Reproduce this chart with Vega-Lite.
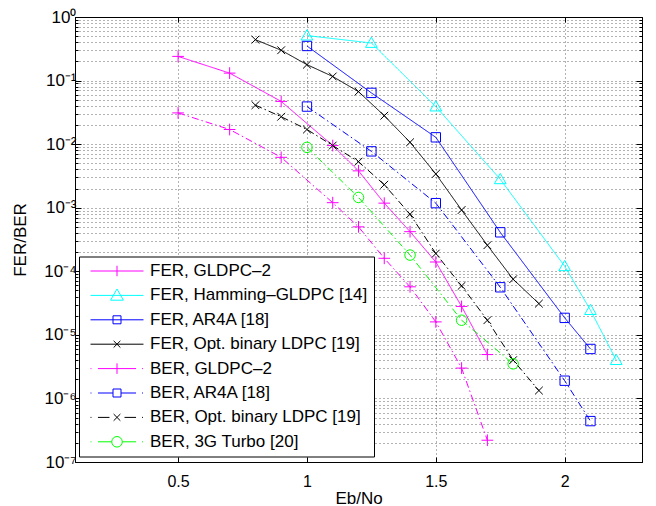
{
  "$schema": "https://vega.github.io/schema/vega-lite/v6.json",
  "width": 567,
  "height": 445,
  "autosize": {"type": "none"},
  "padding": {"left": 75, "top": 17, "right": 14, "bottom": 44},
  "background": "white",
  "config": {
    "font": "Liberation Sans",
    "view": {"stroke": "black", "strokeWidth": 1},
    "axis": {
      "domainColor": "black", "tickColor": "black", "labelColor": "black", "titleColor": "black",
      "labelFontSize": 16, "titleFontSize": 17, "titleFontWeight": "normal",
      "gridColor": "black", "gridDash": [1, 3], "gridOpacity": 0.6, "gridWidth": 1,
      "domainWidth": 1, "tickWidth": 1, "labelOverlap": false, "labelFlush": false, "labelBound": false
    }
  },
  "data": {"values": [
    {"series": "FER, GLDPC–2", "x": 0.5, "y": 0.24},
    {"series": "FER, GLDPC–2", "x": 0.7, "y": 0.131},
    {"series": "FER, GLDPC–2", "x": 0.9, "y": 0.047},
    {"series": "FER, GLDPC–2", "x": 1.1, "y": 0.0095},
    {"series": "FER, GLDPC–2", "x": 1.2, "y": 0.0038},
    {"series": "FER, GLDPC–2", "x": 1.3, "y": 0.00118},
    {"series": "FER, GLDPC–2", "x": 1.4, "y": 0.00042},
    {"series": "FER, GLDPC–2", "x": 1.5, "y": 0.00014},
    {"series": "FER, GLDPC–2", "x": 1.6, "y": 0.000028},
    {"series": "FER, GLDPC–2", "x": 1.7, "y": 0.0000049},
    {"series": "FER, Hamming–GLDPC [14]", "x": 1.0, "y": 0.51},
    {"series": "FER, Hamming–GLDPC [14]", "x": 1.25, "y": 0.39},
    {"series": "FER, Hamming–GLDPC [14]", "x": 1.5, "y": 0.039},
    {"series": "FER, Hamming–GLDPC [14]", "x": 1.75, "y": 0.0028},
    {"series": "FER, Hamming–GLDPC [14]", "x": 2.0, "y": 0.00012},
    {"series": "FER, Hamming–GLDPC [14]", "x": 2.1, "y": 0.0000245},
    {"series": "FER, Hamming–GLDPC [14]", "x": 2.2, "y": 0.000004},
    {"series": "FER, AR4A [18]", "x": 1.0, "y": 0.35},
    {"series": "FER, AR4A [18]", "x": 1.25, "y": 0.064},
    {"series": "FER, AR4A [18]", "x": 1.5, "y": 0.0128},
    {"series": "FER, AR4A [18]", "x": 1.75, "y": 0.00041},
    {"series": "FER, AR4A [18]", "x": 2.0, "y": 0.0000185},
    {"series": "FER, AR4A [18]", "x": 2.1, "y": 0.000006},
    {"series": "FER, Opt. binary LDPC [19]", "x": 0.8, "y": 0.44},
    {"series": "FER, Opt. binary LDPC [19]", "x": 0.9, "y": 0.30},
    {"series": "FER, Opt. binary LDPC [19]", "x": 1.0, "y": 0.178},
    {"series": "FER, Opt. binary LDPC [19]", "x": 1.1, "y": 0.116},
    {"series": "FER, Opt. binary LDPC [19]", "x": 1.2, "y": 0.067},
    {"series": "FER, Opt. binary LDPC [19]", "x": 1.3, "y": 0.028},
    {"series": "FER, Opt. binary LDPC [19]", "x": 1.4, "y": 0.0107},
    {"series": "FER, Opt. binary LDPC [19]", "x": 1.5, "y": 0.0034},
    {"series": "FER, Opt. binary LDPC [19]", "x": 1.6, "y": 0.00092},
    {"series": "FER, Opt. binary LDPC [19]", "x": 1.7, "y": 0.000257},
    {"series": "FER, Opt. binary LDPC [19]", "x": 1.8, "y": 0.000075},
    {"series": "FER, Opt. binary LDPC [19]", "x": 1.9, "y": 0.000031},
    {"series": "BER, GLDPC–2", "x": 0.5, "y": 0.031},
    {"series": "BER, GLDPC–2", "x": 0.7, "y": 0.017},
    {"series": "BER, GLDPC–2", "x": 0.9, "y": 0.0062},
    {"series": "BER, GLDPC–2", "x": 1.1, "y": 0.0012},
    {"series": "BER, GLDPC–2", "x": 1.2, "y": 0.0005},
    {"series": "BER, GLDPC–2", "x": 1.3, "y": 0.00016},
    {"series": "BER, GLDPC–2", "x": 1.4, "y": 0.000057},
    {"series": "BER, GLDPC–2", "x": 1.5, "y": 0.000016},
    {"series": "BER, GLDPC–2", "x": 1.6, "y": 0.000003},
    {"series": "BER, GLDPC–2", "x": 1.7, "y": 0.00000022},
    {"series": "BER, AR4A [18]", "x": 1.0, "y": 0.039},
    {"series": "BER, AR4A [18]", "x": 1.25, "y": 0.0077},
    {"series": "BER, AR4A [18]", "x": 1.5, "y": 0.00118},
    {"series": "BER, AR4A [18]", "x": 1.75, "y": 0.000056},
    {"series": "BER, AR4A [18]", "x": 2.0, "y": 0.0000019},
    {"series": "BER, AR4A [18]", "x": 2.1, "y": 0.00000044},
    {"series": "BER, Opt. binary LDPC [19]", "x": 0.8, "y": 0.041},
    {"series": "BER, Opt. binary LDPC [19]", "x": 0.9, "y": 0.027},
    {"series": "BER, Opt. binary LDPC [19]", "x": 1.0, "y": 0.017},
    {"series": "BER, Opt. binary LDPC [19]", "x": 1.1, "y": 0.0095},
    {"series": "BER, Opt. binary LDPC [19]", "x": 1.2, "y": 0.0053},
    {"series": "BER, Opt. binary LDPC [19]", "x": 1.3, "y": 0.0023},
    {"series": "BER, Opt. binary LDPC [19]", "x": 1.4, "y": 0.00079},
    {"series": "BER, Opt. binary LDPC [19]", "x": 1.5, "y": 0.00019},
    {"series": "BER, Opt. binary LDPC [19]", "x": 1.6, "y": 0.000059},
    {"series": "BER, Opt. binary LDPC [19]", "x": 1.7, "y": 0.000017},
    {"series": "BER, Opt. binary LDPC [19]", "x": 1.8, "y": 0.000004},
    {"series": "BER, Opt. binary LDPC [19]", "x": 1.9, "y": 0.00000133},
    {"series": "BER, 3G Turbo [20]", "x": 1.0, "y": 0.0089},
    {"series": "BER, 3G Turbo [20]", "x": 1.2, "y": 0.00145},
    {"series": "BER, 3G Turbo [20]", "x": 1.4, "y": 0.00018},
    {"series": "BER, 3G Turbo [20]", "x": 1.6, "y": 0.000017},
    {"series": "BER, 3G Turbo [20]", "x": 1.8, "y": 0.0000035}
  ]},
  "layer": [
    {
      "mark": {"type": "line", "strokeWidth": 1},
      "encoding": {
        "x": {"field": "x", "type": "quantitative",
          "scale": {"domain": [0.1, 2.3], "nice": false, "zero": false},
          "axis": {"orient": "bottom", "values": [0.5, 1, 1.5, 2], "format": "~g", "grid": true,
            "tickSize": -5, "labelPadding": 16, "title": "Eb/No", "titleY": 36, "titleBaseline": "middle"}},
        "y": {"field": "y", "type": "quantitative",
          "scale": {"type": "log", "domain": [1e-7, 1], "nice": false},
          "axis": {"orient": "left", "grid": true,
            "values": [1e-7,2e-7,3e-7,4e-7,5e-7,6e-7,7e-7,8e-7,9e-7,1e-6,2e-6,3e-6,4e-6,5e-6,6e-6,7e-6,8e-6,9e-6,1e-5,2e-5,3e-5,4e-5,5e-5,6e-5,7e-5,8e-5,9e-5,1e-4,2e-4,3e-4,4e-4,5e-4,6e-4,7e-4,8e-4,9e-4,1e-3,2e-3,3e-3,4e-3,5e-3,6e-3,7e-3,8e-3,9e-3,1e-2,2e-2,3e-2,4e-2,5e-2,6e-2,7e-2,8e-2,9e-2,1e-1,2e-1,3e-1,4e-1,5e-1,6e-1,7e-1,8e-1,9e-1,1],
            "labelExpr": "abs(log(datum.value)/LN10 - round(log(datum.value)/LN10)) < 0.001 ? ['10⁰','10⁻¹','10⁻²','10⁻³','10⁻⁴','10⁻⁵','10⁻⁶','10⁻⁷'][-round(log(datum.value)/LN10)] : ''",
            "tickSize": {"condition": {"test": "abs(log(datum.value)/LN10 - round(log(datum.value)/LN10)) < 0.001", "value": -6}, "value": -3},
            "labelPadding": 5, "labelFontSize": 17,
            "title": "FER/BER", "titleX": -55, "titleY": 222.5, "titleBaseline": "middle", "titleAlign": "center"}},
        "color": {"field": "series", "type": "nominal",
          "scale": {
            "domain": ["FER, GLDPC–2", "FER, Hamming–GLDPC [14]", "FER, AR4A [18]", "FER, Opt. binary LDPC [19]", "BER, GLDPC–2", "BER, AR4A [18]", "BER, Opt. binary LDPC [19]", "BER, 3G Turbo [20]"],
            "range": ["#ff00ff", "#00ffff", "#0000ff", "#000000", "#ff00ff", "#0000ff", "#000000", "#00ff00"]},
          "legend": {
            "orient": "none", "legendX": 4, "legendY": 239.5, "title": null,
            "fillColor": "white", "strokeColor": "black", "padding": 6,
            "labelFontSize": 17, "labelFont": "Liberation Sans", "labelColor": "black", "labelLimit": 0,
            "symbolSize": 256, "symbolOffset": 23.5, "labelOffset": 24.5, "rowPadding": 6.4,
            "encode": {"symbols": {"update": {
              "shape": {"signal": "['M-3.31,0H3.31M0,-0.66V0.66', 'M-3.31,0H3.31M0,-0.8L0.8,0.6L-0.8,0.6Z', 'M-3.31,0H3.31M-0.5,-0.5H0.5V0.5H-0.5Z', 'M-3.31,0H3.31M-0.42,-0.42L0.42,0.42M-0.42,0.42L0.42,-0.42', 'M-3.31,0H-3.19M-2.38,0H2.38M3.13,0H3.25M0,-0.66V0.66', 'M-3.31,0H-3.19M-2.38,0H-0.5M0.5,0H2.38M3.13,0H3.25M-0.5,-0.5H0.5V0.5H-0.5Z', 'M-3.31,0H-3.19M-2.38,0H-0.94M0.94,0H2.38M3.13,0H3.25M-0.42,-0.42L0.42,0.42M-0.42,0.42L0.42,-0.42', 'M-3.31,0H-3.19M-2.38,0H-0.66M0.66,0H2.38M3.13,0H3.25M-0.66,0A0.66,0.66 0 1,0 0.66,0A0.66,0.66 0 1,0 -0.66,0'][datum.index]"},
              "fill": {"value": "transparent"},
              "strokeWidth": {"value": 1},
              "opacity": {"value": 1}
            }}}
          }},
        "strokeDash": {"field": "series", "type": "nominal",
          "scale": {
            "domain": ["BER, 3G Turbo [20]", "BER, Opt. binary LDPC [19]", "BER, AR4A [18]", "BER, GLDPC–2", "FER, Opt. binary LDPC [19]", "FER, AR4A [18]", "FER, Hamming–GLDPC [14]", "FER, GLDPC–2"],
            "range": [[7, 3, 1.5, 3], [7, 3, 1.5, 3], [7, 3, 1.5, 3], [7, 3, 1.5, 3], [1, 0], [1, 0], [1, 0], [1, 0]]},
          "legend": null}
      }
    },
    {
      "mark": {"type": "point", "filled": false, "strokeWidth": 1, "size": 137, "opacity": 1},
      "encoding": {
        "x": {"field": "x", "type": "quantitative",
          "axis": {"orient": "top", "values": [0.5, 1, 1.5, 2], "labels": false, "grid": false, "title": null, "tickSize": -5}},
        "y": {"field": "y", "type": "quantitative",
          "axis": {"orient": "right", "labels": false, "grid": false, "title": null,
            "values": [1e-7,2e-7,3e-7,4e-7,5e-7,6e-7,7e-7,8e-7,9e-7,1e-6,2e-6,3e-6,4e-6,5e-6,6e-6,7e-6,8e-6,9e-6,1e-5,2e-5,3e-5,4e-5,5e-5,6e-5,7e-5,8e-5,9e-5,1e-4,2e-4,3e-4,4e-4,5e-4,6e-4,7e-4,8e-4,9e-4,1e-3,2e-3,3e-3,4e-3,5e-3,6e-3,7e-3,8e-3,9e-3,1e-2,2e-2,3e-2,4e-2,5e-2,6e-2,7e-2,8e-2,9e-2,1e-1,2e-1,3e-1,4e-1,5e-1,6e-1,7e-1,8e-1,9e-1,1],
            "tickSize": {"condition": {"test": "abs(log(datum.value)/LN10 - round(log(datum.value)/LN10)) < 0.001", "value": -6}, "value": -3}}},
        "color": {"field": "series", "type": "nominal"},
        "shape": {"field": "series", "type": "nominal",
          "scale": {
            "domain": ["BER, 3G Turbo [20]", "BER, Opt. binary LDPC [19]", "BER, AR4A [18]", "BER, GLDPC–2", "FER, Opt. binary LDPC [19]", "FER, AR4A [18]", "FER, Hamming–GLDPC [14]", "FER, GLDPC–2"],
            "range": ["M-0.9,0A0.9,0.9 0 1,0 0.9,0A0.9,0.9 0 1,0 -0.9,0Z", "M-0.66,-0.66L0.66,0.66M-0.66,0.66L0.66,-0.66", "M-0.8,-0.8H0.8V0.8H-0.8Z", "M-1,0H1M0,-1V1", "M-0.66,-0.66L0.66,0.66M-0.66,0.66L0.66,-0.66", "M-0.8,-0.8H0.8V0.8H-0.8Z", "M0,-1L1,0.75L-1,0.75Z", "M-1,0H1M0,-1V1"]},
          "legend": null}
      }
    }
  ],
  "resolve": {"axis": {"x": "independent", "y": "independent"}}
}
